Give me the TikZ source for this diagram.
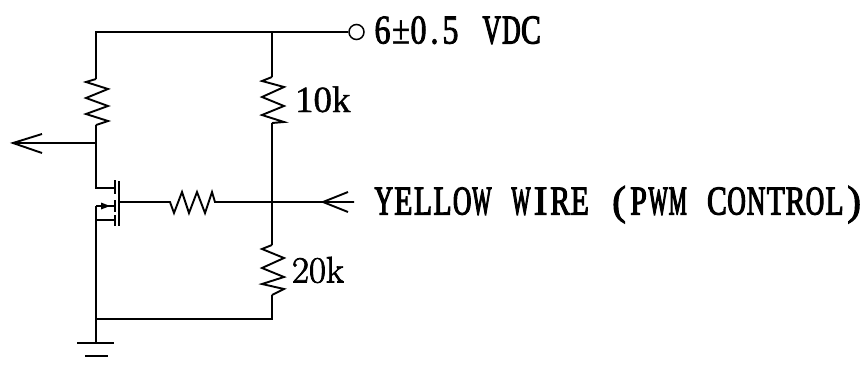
\documentclass[tikz,border=0pt]{standalone}
\usepackage{fontspec}
\newfontfamily\lfa[FakeStretch=0.62,FakeBold=2.6]{Liberation Serif}
\newfontfamily\lfb[FakeStretch=0.72,FakeBold=2.6]{Liberation Serif}
\newfontfamily\lfw[FakeStretch=0.49,FakeBold=2.6]{Liberation Serif}
\newfontfamily\lfn[FakeStretch=1.0,FakeBold=2.6]{Liberation Serif}
\newfontfamily\lfd[FakeStretch=0.78,FakeBold=2.0]{Liberation Serif}
\newfontfamily\lfp[FakeStretch=0.8,FakeBold=0.8]{Liberation Serif}
\newfontfamily\tenk[FakeBold=1.0]{Liberation Serif}
\newfontfamily\rom[FakeBold=2.0]{Latin Modern Roman}
\newcommand{\ca}[1]{\makebox[19.6pt]{\lfa #1}}
\newcommand{\cb}[1]{\makebox[19.6pt]{\lfb #1}}
\newcommand{\cw}[1]{\makebox[19.6pt]{\lfw #1}}
\newcommand{\cn}[1]{\makebox[19.6pt]{\lfn #1}}
\newcommand{\dg}[1]{\makebox[17pt]{\lfd #1}}
\newcommand{\sk}{\hspace{19.6pt}}
\begin{document}
\begin{tikzpicture}[x=1pt,y=-1pt,
  wire/.style={line width=1.9pt,line join=miter,line cap=butt},
  mosbar/.style={line width=2pt},
  lbl/.style={anchor=base west,inner sep=0pt,outer sep=0pt,text=black}]
\useasboundingbox (0,0) rectangle (864,365);
\fill[white] (0,0) rectangle (864,365);
% named points
\coordinate (tl) at (96,32);
\coordinate (tm) at (272,32);
\node[circle,draw,line width=1.5pt,minimum size=15pt,inner sep=0pt] (term) at (356.5,32) {};
\coordinate (r1a) at (96,79);
\coordinate (r1b) at (96,125);
\coordinate (dn) at (96,143);
\coordinate (ltip) at (13,143);
\coordinate (dr) at (96,188);
\coordinate (ds) at (115,188);
\coordinate (sr) at (96,206);
\coordinate (ss) at (115,206);
\coordinate (br) at (96,220);
\coordinate (bs) at (115,220);
\coordinate (gnd) at (96,343);
\coordinate (bl) at (96,319);
\coordinate (brr) at (272,319);
\coordinate (r2a) at (272,77);
\coordinate (r2b) at (272,123);
\coordinate (mid) at (272,202);
\coordinate (r3a) at (272,245);
\coordinate (r3b) at (272,295);
\coordinate (gt) at (119,202);
\coordinate (rga) at (170,202);
\coordinate (rgb) at (215,202);
\coordinate (inend) at (354,202);
\coordinate (intip) at (323,202);
% wires
\draw[wire] (r1a) -- (tl) -- (term.west);
\draw[wire] (tm) -- (r2a);
\draw[wire] (r1a) -- ++(-10,3) -- ++(22,7) -- ++(-22,9) -- ++(22,8) -- ++(-22,8) -- ++(22,7) -- (r1b);
\draw[wire] (r1b) -- (dr) -- (ds);
\draw[wire] (dn) -- (ltip);
\draw[wire] (ltip) ++(29,-9) -- (ltip) -- ++(29,10);
\draw[wire] (r2a) -- ++(-10,4) -- ++(22,6) -- ++(-22,10) -- ++(22,9) -- ++(-22,9) -- ++(22,7) -- (r2b);
\draw[wire] (r2b) -- (r3a);
\draw[wire] (r3a) -- ++(-10,4) -- ++(22,9) -- ++(-22,10) -- ++(22,9) -- ++(-22,7) -- ++(22,5) -- (r3b);
\draw[wire] (r3b) -- (brr) -- (bl);
\draw[wire] (sr) -- (ss);
\draw[wire] (br) -- (bs);
\draw[wire] (sr) -- (gnd);
% MOSFET
\draw[mosbar] (115,180) -- (115,194);
\draw[mosbar] (115,200) -- (115,212);
\draw[mosbar] (115,215) -- (115,226);
\draw[mosbar] (119,181) -- (119,226);
\fill (101,202.5) -- (110,206) -- (101,209.5) -- cycle;
% gate
\draw[wire] (gt) -- (rga) -- ++(4,11) -- ++(8,-21) -- ++(7,21) -- ++(8,-21) -- ++(8,21) -- ++(7,-21) -- (rgb) -- (inend);
\draw[wire] (348,192) -- (intip) -- (348,212);
% ground
\draw[wire] (77,343) -- (114,343);
\draw[wire] (85,356) -- (108,356);
% labels
\node[lbl] (v) at (374,43.5) {\fontsize{41}{41}\selectfont\dg{6}\makebox[20pt]{\lfp\char"00B1}\hspace{-1pt}\dg{0}\hspace{-1pt}\dg{.}\hspace{-1pt}\dg{5}\hspace{23pt}\ca{V}\ca{D}\cb{C}};
\node[lbl] (k1) at (295,112) {\tenk\fontsize{37}{37}\selectfont 10k};
\node[lbl] (k2) at (292,282.5) {\rom\fontsize{37}{37}\selectfont 20k};
\node[lbl] (y) at (374,214.5) {\fontsize{41}{41}\selectfont\ca{Y}\cb{E}\cb{L}\cb{L}\ca{O}\cw{W}\sk\cw{W}\cn{I}\cb{R}\cb{E}\sk\cn{(}\cb{P}\cw{W}\cw{M}\sk\cb{C}\ca{O}\ca{N}\cb{T}\cb{R}\ca{O}\cb{L}\cn{)}};
\end{tikzpicture}
\end{document}
